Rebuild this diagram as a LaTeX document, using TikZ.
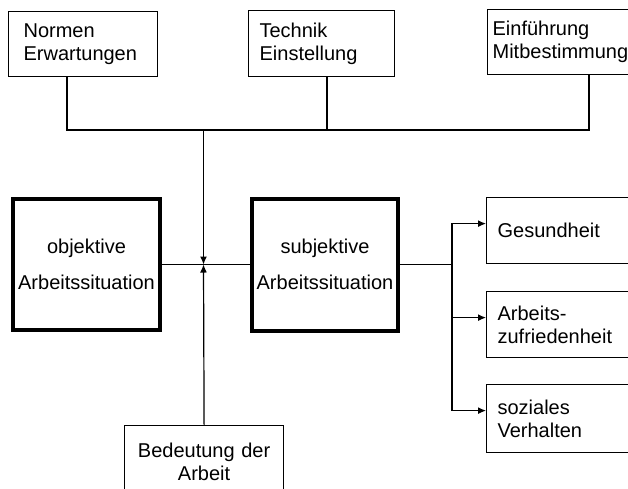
\documentclass[tikz,border=0pt]{standalone}
\usepackage{fontspec}
\setmainfont{Liberation Sans}
\usetikzlibrary{arrows.meta}
\tikzstyle{kasten} = [draw,line width=1.2pt,anchor=north west,align=left,font=\fontsize{20}{23}\selectfont]
\tikzstyle{dick} = [draw,line width=4pt,align=center,inner sep=1pt,font=\fontsize{20}{36}\selectfont]
\tikzstyle{pfeil} = [-{Latex[length=8pt,width=7pt]},line width=1.2pt]

\begin{document}
\begin{tikzpicture}[x=1pt,y=-1pt]
		\clip (0,0) rectangle (628,488);
		\fill[white] (0,0) rectangle (628,488);
		% obere Reihe
		\node [kasten,inner xsep=15pt,text width=119pt,minimum height=65pt](normen) at (8,11){Normen\\Erwartungen};
		\node [kasten,inner xsep=11pt,text width=124pt,minimum height=66pt](technik) at (248,10){Technik\\Einstellung};
		\node [kasten,inner xsep=5pt,text width=200pt,minimum height=65pt](einf) at (487,9){Einführung\\Mitbestimmung};
		% mittlere Reihe
		\node [dick,minimum width=147pt,minimum height=131pt](objektiv) at (86.5,264.5){objektive\\Arbeitssituation};
		\node [dick,minimum width=146pt,minimum height=132pt](subjektiv) at (325,264.5){subjektive\\Arbeitssituation};
		\node [kasten,inner xsep=11pt,text width=200pt,minimum height=66pt](gesund) at (486,197){Gesundheit};
		\node [kasten,inner xsep=11pt,text width=200pt,minimum height=66pt](arbeit) at (486,291){Arbeits-\\zufriedenheit};
		\node [kasten,inner xsep=11pt,text width=200pt,minimum height=68pt](sozial) at (486,384){soziales\\Verhalten};
		% unten
		\node [kasten,inner xsep=5pt,text width=149pt,align=center,minimum height=72pt](bedeutung) at (124,425){Bedeutung der\\Arbeit};
		
		\coordinate (k1) at (67,130);
		\coordinate (k2) at (327,130);
		\coordinate (k3) at (589,130);
		\coordinate (k0) at (203.5,130);
		\coordinate (mitte) at (203.5,264.5);
		\coordinate (verz) at (452,264.5);
		
		\draw[line width=1.2pt](normen.south -| k1)--(k1)--(k3)--(einf.south -| k3);
		\draw[line width=1.2pt](technik.south -| k2)--(k2);
		\draw[pfeil](k0)--(mitte);
		\draw[pfeil](bedeutung.north)--(mitte);
		\draw[line width=1.2pt](objektiv.east)--(subjektiv.west);
		\draw[line width=1.2pt](subjektiv.east)--(verz);
		\draw[pfeil](verz)|-([yshift=7pt]gesund.west);
		\draw[pfeil](verz)|-([yshift=7pt]arbeit.west);
		\draw[pfeil](verz)|-([yshift=8pt]sozial.west);
		\end{tikzpicture}
\end{document}
